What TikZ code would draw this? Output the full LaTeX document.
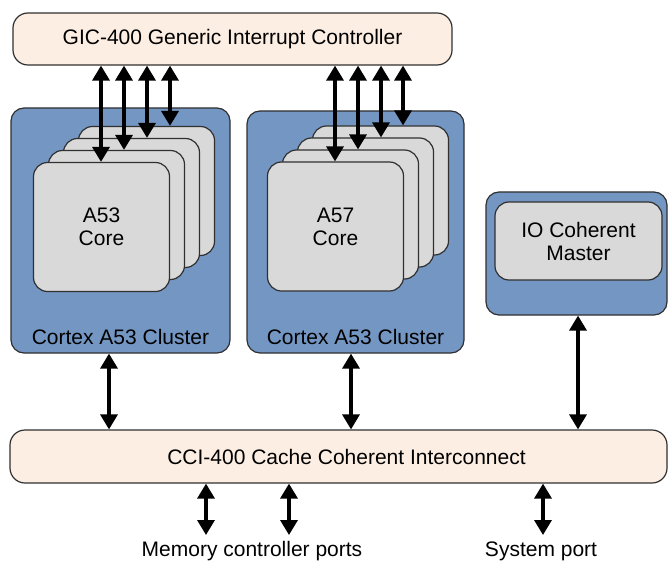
\documentclass[tikz,border=0pt]{standalone}
\usepackage{fontspec}
\setmainfont{Liberation Sans}
\usepackage{xcolor}
\usepackage{tikz}
\usetikzlibrary{arrows.meta}

\definecolor{busfill}{HTML}{FCEEE3}
\definecolor{clusterfill}{HTML}{7496C3}
\definecolor{corefill}{HTML}{D9D9D9}
\definecolor{edge}{HTML}{303030}

\tikzset{
  bus/.style={draw=edge, fill=busfill, rounded corners=7.5pt, line width=0.6pt, inner sep=0pt},
  cluster/.style={draw=edge, fill=clusterfill, rounded corners=6.5pt, line width=0.6pt, inner sep=0pt},
  core/.style={draw=edge, fill=corefill, rounded corners=7pt, line width=0.6pt, inner sep=0pt,
               minimum width=68pt, minimum height=64.5pt, align=center},
  link/.style={{Triangle[width=8.5pt,length=7.5pt]}-{Triangle[width=8.5pt,length=7.5pt]}, line width=1.7pt},
}

\begin{document}
\begin{tikzpicture}[x=0.5pt, y=-0.5pt, font=\fontsize{10.5pt}{11.5pt}\selectfont]
  \useasboundingbox (0,0) rectangle (668,561);

  % interrupt controller and interconnect
  \node[bus, minimum width=219.5pt, minimum height=26pt] (gic) at (232.5,39) {GIC-400 Generic Interrupt Controller};
  \node[bus, minimum width=328.5pt, minimum height=26.5pt] (cci) at (338.5,456.5) {\hspace*{8pt}CCI-400 Cache Coherent Interconnect};

  % clusters
  \node[cluster, minimum width=109.5pt, minimum height=122.5pt] (clA) at (120.5,230.5) {};
  \node[cluster, minimum width=108.5pt, minimum height=121pt] (clB) at (355.5,232) {};
  \node[cluster, minimum width=90.5pt, minimum height=61.5pt] (io) at (576.5,253.5) {};

  % stacked cores, back to front
  \foreach \i in {4,3,2} {
    \node[core] (ca\i) at ({101.5+15*(\i-1)}, {227-12*(\i-1)}) {};
    \node[core] (cb\i) at ({335.5+15*(\i-1)}, {226.5-12*(\i-1)}) {};
  }
  \node[core] (ca1) at (101.5,227) {A53\\Core};
  \node[core] (cb1) at (335.5,226.5) {A57\\Core};
  \node[core, minimum width=83.5pt, minimum height=39pt] (iom) at (578.5,241) {IO Coherent\\Master};

  \node (clAlbl) at (120.5,337) {Cortex A53 Cluster};
  \node (clBlbl) at (355.5,337) {Cortex A53 Cluster};

  % interrupt lines
  \foreach \x [count=\i] in {101,124,147,170}
    \draw[link] (\x,0 |- gic.south) -- (\x,0 |- ca\i.north);
  \foreach \x [count=\i] in {335,358,381,403}
    \draw[link] (\x,0 |- gic.south) -- (\x,0 |- cb\i.north);

  % cluster ports
  \draw[link] (109,0 |- clA.south) -- (109,0 |- cci.north);
  \draw[link] (351,0 |- clB.south) -- (351,0 |- cci.north);
  \draw[link] (578,0 |- io.south) -- (578,0 |- cci.north);

  % memory and system ports
  \node (mem) at (252,551) {Memory controller ports};
  \node (sys) at (541,551) {System port};
  \coordinate (m1) at (206,535);
  \coordinate (m2) at (289,535);
  \coordinate (s1) at (543,535);
  \foreach \p in {m1,m2,s1}
    \draw[link] (\p |- cci.south) -- (\p);
\end{tikzpicture}
\end{document}
